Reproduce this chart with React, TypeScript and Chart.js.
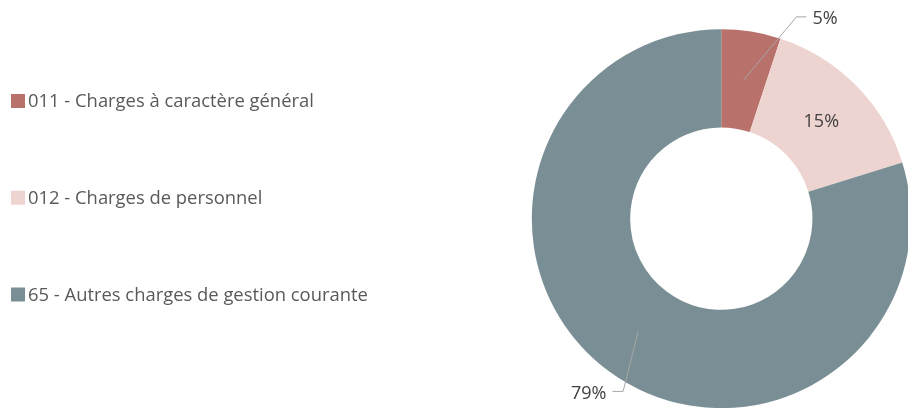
import React, { useEffect, useRef } from "react";
import { Chart, registerables } from "chart.js";

Chart.register(...registerables);

// ---- data ----
const categories = [
  "011 - Charges à caractère général",
  "012 - Charges de personnel",
  "65 - Autres charges de gestion courante",
];
const values = [5, 15, 79];
const colors = ["#B8716B", "#EED4D1", "#7A8F95"];
const percentLabels = values.map((v) => `${v}%`);

// ---- styles ----
const FONT = "'Open Sans', Lato, sans-serif";
const LEGEND_FONT_SIZE = 18.4;
const LABEL_FONT_SIZE = 18;
const LEGEND_TEXT_COLOR = "#595959";
const LABEL_TEXT_COLOR = "#404040";
const LEADER_COLOR = "#A6A6A6";

// leader lines: null => label centered inside the slice
const leaderCfg: ({ dx: number; dy: number; tail: number } | null)[] = [
  { dx: 53, dy: -63.3, tail: 10 },
  null,
  { dx: -15, dy: 59.7, tail: -10.6 },
];

const legendPlugin = {
  id: "sideLegend",
  afterDraw(chart: any) {
    const ctx = chart.ctx as CanvasRenderingContext2D;
    ctx.save();
    ctx.font = `${LEGEND_FONT_SIZE}px ${FONT}`;
    ctx.textBaseline = "middle";
    ctx.textAlign = "left";
    const top = 101;
    const step = 96.75;
    categories.forEach((c, i) => {
      const cy = top + i * step;
      ctx.fillStyle = colors[i];
      ctx.fillRect(11, cy - 7, 14, 14);
      ctx.fillStyle = LEGEND_TEXT_COLOR;
      ctx.fillText(c, 28, cy + 1);
    });
    ctx.restore();
  },
};

const labelPlugin = {
  id: "sliceLabels",
  afterDatasetsDraw(chart: any) {
    const ctx = chart.ctx as CanvasRenderingContext2D;
    const meta = chart.getDatasetMeta(0);
    ctx.save();
    ctx.font = `${LABEL_FONT_SIZE}px ${FONT}`;
    ctx.textBaseline = "middle";
    meta.data.forEach((arc: any, i: number) => {
      const { x, y, startAngle, endAngle, innerRadius, outerRadius } = arc.getProps(
        ["x", "y", "startAngle", "endAngle", "innerRadius", "outerRadius"],
        true
      );
      const mid = (startAngle + endAngle) / 2;
      const r = (innerRadius + outerRadius) / 2;
      const px = x + Math.cos(mid) * r;
      const py = y + Math.sin(mid) * r;
      const cfg = leaderCfg[i];
      ctx.fillStyle = LABEL_TEXT_COLOR;
      if (!cfg) {
        ctx.textAlign = "center";
        ctx.fillText(percentLabels[i], px, py + 2);
        return;
      }
      const ex = px + cfg.dx;
      const ey = py + cfg.dy;
      const tx = ex + cfg.tail;
      ctx.strokeStyle = LEADER_COLOR;
      ctx.lineWidth = 1;
      ctx.beginPath();
      ctx.moveTo(px, py);
      ctx.lineTo(ex, ey);
      ctx.lineTo(tx, ey);
      ctx.stroke();
      const right = cfg.tail > 0;
      ctx.textAlign = right ? "left" : "right";
      ctx.fillText(percentLabels[i], tx + (right ? 6 : -6), ey + 2);
    });
    ctx.restore();
  },
};

export default function App() {
  const ref = useRef<HTMLCanvasElement | null>(null);
  useEffect(() => {
    if (!ref.current) return;
    const chart = new Chart(ref.current, {
      type: "doughnut",
      data: {
        labels: categories,
        datasets: [
          {
            data: values,
            backgroundColor: colors,
            borderWidth: 0,
          },
        ],
      },
      options: {
        responsive: false,
        animation: false,
        radius: 189.5,
        cutout: 92,
        layout: { padding: { left: 522.6, right: 0, top: 27.4, bottom: 0 } },
        plugins: {
          legend: { display: false },
          tooltip: { enabled: false },
        },
      } as any,
      plugins: [labelPlugin, legendPlugin],
    });
    return () => chart.destroy();
  }, []);
  return (
    <div
      style={{
        position: "fixed",
        left: 0,
        top: 0,
        width: 908,
        height: 408,
        overflow: "hidden",
        background: "#fff",
      }}
    >
      <canvas ref={ref} width={920} height={410} style={{ display: "block" }} />
    </div>
  );
}
